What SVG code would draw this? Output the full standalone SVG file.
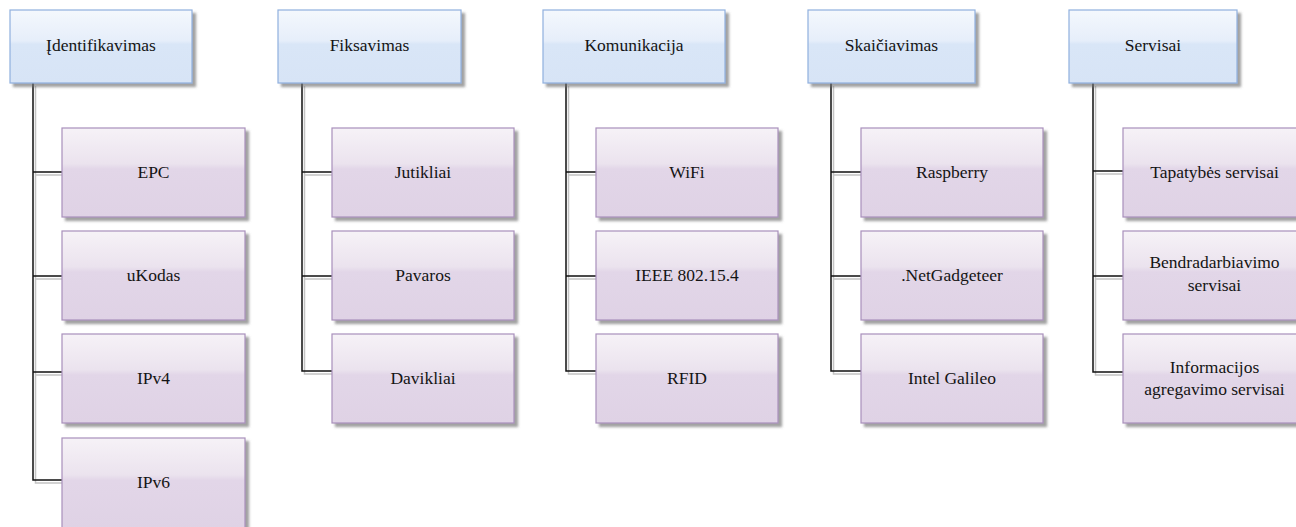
<svg xmlns="http://www.w3.org/2000/svg" width="1296" height="527" viewBox="0 0 1296 527">
  <defs>
    <linearGradient id="gBlue" x1="0" y1="0" x2="0" y2="1">
      <stop offset="0" stop-color="#f4f8fd"/>
      <stop offset="0.42" stop-color="#e6eefa"/>
      <stop offset="0.47" stop-color="#d9e6f7"/>
      <stop offset="1" stop-color="#d7e4f6"/>
    </linearGradient>
    <linearGradient id="gPurple" x1="0" y1="0" x2="0" y2="1">
      <stop offset="0" stop-color="#f6f2f7"/>
      <stop offset="0.40" stop-color="#ebe3ee"/>
      <stop offset="0.46" stop-color="#e2d6e8"/>
      <stop offset="1" stop-color="#dfd2e5"/>
    </linearGradient>
    <filter id="shadow" x="-5%" y="-5%" width="115%" height="120%">
      <feDropShadow dx="3.5" dy="3.5" stdDeviation="1.2" flood-color="#6e6e6e" flood-opacity="0.65"/>
    </filter>
  </defs>
  <style>
    .head rect { fill: url(#gBlue); stroke: #8fb0de; stroke-width: 1.2; filter: url(#shadow); }
    .item rect { fill: url(#gPurple); stroke: #a88fbb; stroke-width: 1.2; filter: url(#shadow); }
    .lbl text { font-size: 17.5px; fill: #141414; text-anchor: middle; }
    .wire { fill: none; stroke: #111; stroke-width: 1.5; }
    .wire-shade { fill: none; stroke: #c4c4c4; stroke-width: 1.5; }
  </style>

  <!-- connectors: a pale offset copy under each black tree line -->
  <g id="connectors">
    <g transform="translate(2.5,3)" class="wire-shade">
      <path d="M33,83 V480 H62 M33,172 H62 M33,276 H62 M33,372 H62"/>
      <path d="M302,83 V371 H332 M302,172 H332 M302,276 H332"/>
      <path d="M566,83 V371 H596 M566,172 H596 M566,276 H596"/>
      <path d="M831,83 V371 H861 M831,172 H861 M831,276 H861"/>
      <path d="M1093,83 V372 H1123 M1093,171 H1123 M1093,276 H1123"/>
    </g>
    <g class="wire">
      <path d="M33,83 V480 H62 M33,172 H62 M33,276 H62 M33,372 H62"/>
      <path d="M302,83 V371 H332 M302,172 H332 M302,276 H332"/>
      <path d="M566,83 V371 H596 M566,172 H596 M566,276 H596"/>
      <path d="M831,83 V371 H861 M831,172 H861 M831,276 H861"/>
      <path d="M1093,83 V372 H1123 M1093,171 H1123 M1093,276 H1123"/>
    </g>
  </g>

  <g class="lbl" font-family="'Liberation Serif', 'DejaVu Serif', serif">
  <!-- column headers -->
  <g id="identifikavimas" class="head"><rect x="10" y="10" width="182" height="73"/><text x="101" y="51">Įdentifikavimas</text></g>
  <g id="fiksavimas" class="head"><rect x="278" y="10" width="183" height="73"/><text x="369.5" y="51">Fiksavimas</text></g>
  <g id="komunikacija" class="head"><rect x="543" y="10" width="182" height="73"/><text x="634" y="51">Komunikacija</text></g>
  <g id="skaiciavimas" class="head"><rect x="808" y="10" width="167" height="73"/><text x="891.5" y="51">Skaičiavimas</text></g>
  <g id="servisai" class="head"><rect x="1069" y="10" width="168" height="73"/><text x="1153" y="51">Servisai</text></g>

  <!-- Identifikavimas items -->
  <g id="epc" class="item"><rect x="62" y="128" width="183" height="89"/><text x="153.5" y="178">EPC</text></g>
  <g id="ukodas" class="item"><rect x="62" y="231" width="183" height="89"/><text x="153.5" y="281">uKodas</text></g>
  <g id="ipv4" class="item"><rect x="62" y="334" width="183" height="89"/><text x="153.5" y="384">IPv4</text></g>
  <g id="ipv6" class="item"><rect x="62" y="438" width="183" height="92"/><text x="153.5" y="488">IPv6</text></g>

  <!-- Fiksavimas items -->
  <g id="jutikliai" class="item"><rect x="332" y="128" width="182" height="89"/><text x="423" y="178">Jutikliai</text></g>
  <g id="pavaros" class="item"><rect x="332" y="231" width="182" height="89"/><text x="423" y="281">Pavaros</text></g>
  <g id="davikliai" class="item"><rect x="332" y="334" width="182" height="89"/><text x="423" y="384">Davikliai</text></g>

  <!-- Komunikacija items -->
  <g id="wifi" class="item"><rect x="596" y="128" width="182" height="89"/><text x="687" y="178">WiFi</text></g>
  <g id="ieee" class="item"><rect x="596" y="231" width="182" height="89"/><text x="687" y="281">IEEE 802.15.4</text></g>
  <g id="rfid" class="item"><rect x="596" y="334" width="182" height="89"/><text x="687" y="384">RFID</text></g>

  <!-- Skaičiavimas items -->
  <g id="raspberry" class="item"><rect x="861" y="128" width="182" height="89"/><text x="952" y="178">Raspberry</text></g>
  <g id="netgadgeteer" class="item"><rect x="861" y="231" width="182" height="89"/><text x="952" y="281">.NetGadgeteer</text></g>
  <g id="galileo" class="item"><rect x="861" y="334" width="182" height="89"/><text x="952" y="384">Intel Galileo</text></g>

  <!-- Servisai items -->
  <g id="tapatybes" class="item"><rect x="1123" y="128" width="183" height="89"/><text x="1214.5" y="178">Tapatybės servisai</text></g>
  <g id="bendradarbiavimo" class="item"><rect x="1123" y="231" width="183" height="89"/><text x="1214.5" y="268">Bendradarbiavimo</text><text x="1214.5" y="291">servisai</text></g>
  <g id="informacijos" class="item"><rect x="1123" y="334" width="183" height="89"/><text x="1214.5" y="373">Informacijos</text><text x="1214.5" y="395">agregavimo servisai</text></g>
  </g>
</svg>
